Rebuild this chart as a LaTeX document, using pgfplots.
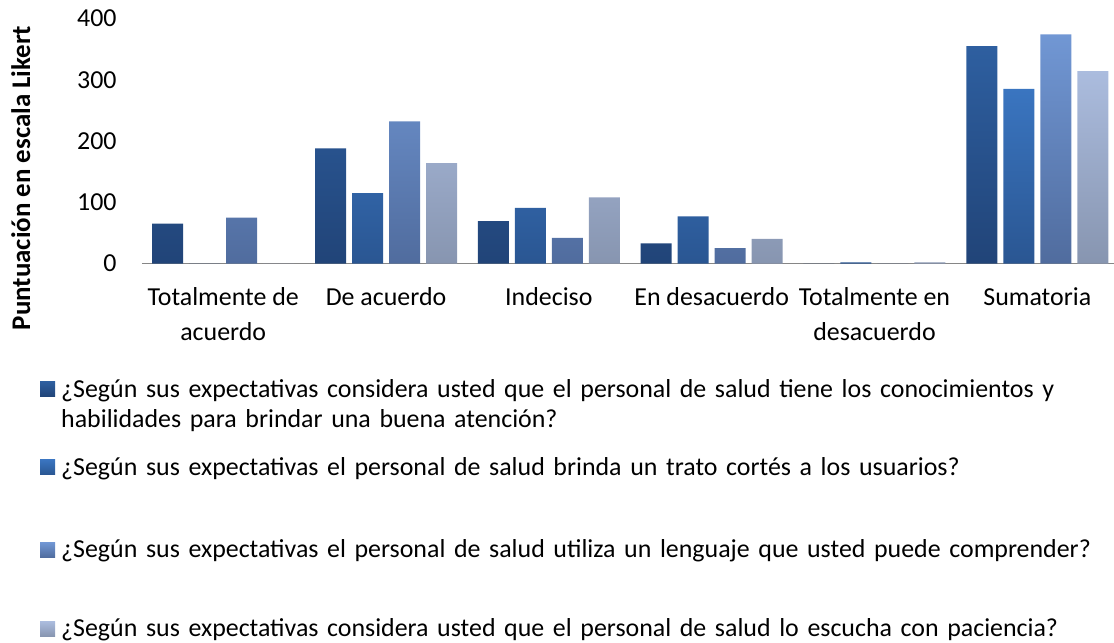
\documentclass[border=0pt]{standalone}
\usepackage{fontspec}
\setmainfont{Carlito}
\usepackage{pgfplots}
\pgfplotsset{compat=1.18}
\definecolor{s1t}{RGB}{46,95,160}
\definecolor{s1b}{RGB}{33,68,120}
\definecolor{s2t}{RGB}{58,117,192}
\definecolor{s2b}{RGB}{42,86,146}
\definecolor{s3t}{RGB}{113,151,212}
\definecolor{s3b}{RGB}{80,108,158}
\definecolor{s4t}{RGB}{171,188,222}
\definecolor{s4b}{RGB}{135,149,176}
\definecolor{axgray}{RGB}{134,134,134}
\begin{document}
\begin{tikzpicture}
\useasboundingbox (0,0) rectangle (1114bp,643bp);
\begin{axis}[
  at={(141.8bp,379.5bp)}, anchor=south west,
  scale only axis, width=972bp, height=245bp,
  xmin=-0.5, xmax=5.47, ymin=0, ymax=400,
  ytick={0,100,200,300,400},
  xtick={0,1,2,3,4,5},
  xticklabels={{Totalmente de\\acuerdo},{De acuerdo},{Indeciso},{En desacuerdo},{Totalmente en\\desacuerdo},{Sumatoria}},
  x tick label style={align=center, font=\fontsize{26}{35}\selectfont, inner sep=0pt, anchor=north, yshift=-24bp},
  y tick label style={font=\fontsize{26}{32}\selectfont, inner sep=0pt, anchor=east, xshift=-25bp},
  /pgf/number format/assume math mode=true,
  major tick length=0pt,
  axis x line=bottom, axis y line=left,
  x axis line style={-, draw=axgray, line width=1.5bp},
  y axis line style={draw=none},
  every axis y label/.style={at={(rel axis cs:-0.115,0.349)}, anchor=base, rotate=90, font=\fontsize{27}{32}\selectfont\bfseries},
  ylabel={Puntuación en escala Likert},
  ybar=6bp, bar width=31bp,
  legend style={at={(rel axis cs:-0.1045,-0.4633)}, anchor=north west, draw=none, fill=none, inner sep=0pt, outer sep=0pt, column sep=6bp, row sep=0pt,
    nodes={inner sep=0pt, text height=, text depth=, text width=1040bp, align=left, font=\fontsize{26}{30.6}\selectfont},
    cells={anchor=base west}},
  legend image code/.code={\path[#1, draw=none] (0bp,0.5bp) rectangle (15bp,15.5bp);},
]
\addplot[draw=none, top color=s1t, bottom color=s1b] coordinates {(0,65) (1,188) (2,69) (3,33) (4,0) (5,355)};
\addplot[draw=none, top color=s2t, bottom color=s2b] coordinates {(0,0) (1,115) (2,91) (3,77) (4,2) (5,285)};
\addplot[draw=none, top color=s3t, bottom color=s3b] coordinates {(0,75) (1,232) (2,42) (3,25) (4,0) (5,374)};
\addplot[draw=none, top color=s4t, bottom color=s4b] coordinates {(0,0) (1,164) (2,108) (3,40) (4,2) (5,314)};
\legend{{\rule{0pt}{20bp}¿Según sus expectativas considera usted que el personal de salud tiene los conocimientos y\\habilidades para brindar una buena atención?\rule[-27.7bp]{0pt}{0pt}},
{\rule{0pt}{20bp}¿Según sus expectativas el personal de salud brinda un trato cortés a los usuarios?\rule[-62.7bp]{0pt}{0pt}},
{\rule{0pt}{20bp}¿Según sus expectativas el personal de salud utiliza un lenguaje que usted puede comprender?\rule[-59bp]{0pt}{0pt}},
{\rule{0pt}{20bp}¿Según sus expectativas considera usted que el personal de salud lo escucha con paciencia?}}
\end{axis}
\end{tikzpicture}
\end{document}
